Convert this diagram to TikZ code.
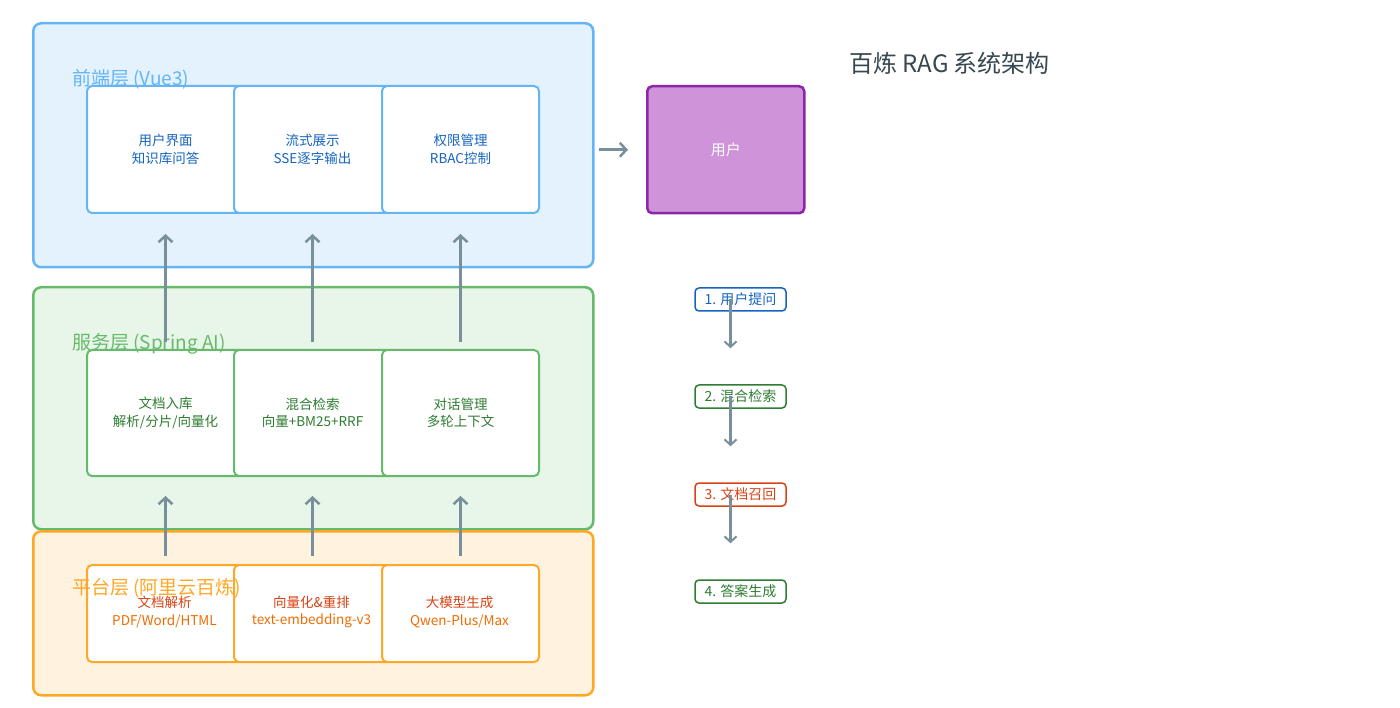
\documentclass[tikz,border=0pt]{standalone}
\usepackage{fontspec}
\setmainfont{Noto Sans CJK SC}
\usetikzlibrary{arrows.meta}
\definecolor{feFill}{HTML}{E3F2FD}
\definecolor{feLine}{HTML}{64B5F6}
\definecolor{feText}{HTML}{1565C0}
\definecolor{svFill}{HTML}{E8F5E9}
\definecolor{svLine}{HTML}{66BB6A}
\definecolor{svText}{HTML}{2E7D32}
\definecolor{plFill}{HTML}{FFF3E0}
\definecolor{plLine}{HTML}{FFA726}
\definecolor{plText}{HTML}{D84315}
\definecolor{plText2}{HTML}{EF6C00}
\definecolor{arrGray}{HTML}{78909C}
\definecolor{userFill}{HTML}{CE93D8}
\definecolor{userLine}{HTML}{8E24AA}
\definecolor{titleGray}{HTML}{37474F}
\tikzset{
  layer/.style={draw, line width=2.5pt, rounded corners=8pt, anchor=north west, inner sep=0pt},
  inbox/.style={draw, fill=white, line width=2pt, rounded corners=5pt, anchor=north west, inner sep=0pt, minimum width=157pt},
  inlabel/.style={font=\fontsize{13.5}{17.5}\selectfont, align=center},
  laylabel/.style={font=\fontsize{19}{21}\selectfont, anchor=base west, inner sep=0pt},
  arr/.style={draw=arrGray, line width=3pt, -{Straight Barb[length=6.5pt,width=14pt,line width=2.5pt]}},
  sarr/.style={draw=arrGray, line width=2.5pt, -{Straight Barb[length=5.5pt,width=12pt,line width=2pt]}},
  stepbox/.style={draw, fill=white, line width=1.5pt, rounded corners=4pt, minimum width=91pt, minimum height=23pt, inner sep=0pt, font=\fontsize{14}{16}\selectfont},
}
\begin{document}
\begin{tikzpicture}[x=1pt,y=-1pt]
\useasboundingbox (0,0) rectangle (1400,708);
% layers
\node[layer, draw=feLine, fill=feFill, minimum width=560pt, minimum height=244pt] (fe) at (32,22) {};
\node[layer, draw=svLine, fill=svFill, minimum width=560pt, minimum height=242pt] (sv) at (32,286) {};
\node[layer, draw=plLine, fill=plFill, minimum width=560pt, minimum height=164pt] (pl) at (32,530) {};
% front boxes
\node[inbox, draw=feLine, minimum height=127pt] (fe1) at (86,85) {};
\node[inbox, draw=feLine, minimum height=127pt] (fe2) at (233,85) {};
\node[inbox, draw=feLine, minimum height=127pt] (fe3) at (381,85) {};
\node[inlabel, text=feText] (fe1t) at (fe1.center) {用户界面\\知识库问答};
\node[inlabel, text=feText] (fe2t) at (fe2.center) {流式展示\\SSE逐字输出};
\node[inlabel, text=feText] (fe3t) at (fe3.center) {权限管理\\RBAC控制};
% service boxes
\node[inbox, draw=svLine, minimum height=126pt] (sv1) at (86,349) {};
\node[inbox, draw=svLine, minimum height=126pt] (sv2) at (233,349) {};
\node[inbox, draw=svLine, minimum height=126pt] (sv3) at (381,349) {};
\node[inlabel, text=svText] (sv1t) at (sv1.center) {文档入库\\解析/分片/向量化};
\node[inlabel, text=svText] (sv2t) at (sv2.center) {混合检索\\向量+BM25+RRF};
\node[inlabel, text=svText] (sv3t) at (sv3.center) {对话管理\\多轮上下文};
% platform boxes
\node[inbox, draw=plLine, minimum height=97pt] (pl1) at (86,564) {};
\node[inbox, draw=plLine, minimum height=97pt] (pl2) at (233,564) {};
\node[inbox, draw=plLine, minimum height=97pt] (pl3) at (381,564) {};
\node[inlabel] (pl1t) at (164.5,612) {\textcolor{plText}{文档解析}\\\textcolor{plText2}{PDF/Word/HTML}};
\node[inlabel] (pl2t) at (311.5,612) {\textcolor{plText}{向量化\&重排}\\\textcolor{plText2}{text-embedding-v3}};
\node[inlabel] (pl3t) at (459.5,612) {\textcolor{plText}{大模型生成}\\\textcolor{plText2}{Qwen-Plus/Max}};
% layer labels
\node[laylabel, text=feLine] (felab) at (72,86) {前端层 (Vue3)};
\node[laylabel, text=svLine] (svlab) at (72,350) {服务层 (Spring AI)};
\node[laylabel, text=plLine] (pllab) at (72,594) {平台层 (阿里云百炼)};
% vertical arrows
\foreach \i in {1,2,3}{
  \draw[arr, shorten <=7pt, shorten >=20pt] (sv\i.north) -- (fe\i.south);
  \draw[arr, shorten <=8pt, shorten >=19pt] (pl\i.north) -- (sv\i.south);
}
% user
\node[draw=userLine, fill=userFill, line width=2.5pt, rounded corners=5pt, minimum width=157pt, minimum height=127pt, anchor=north west, inner sep=0pt] (user) at (646,85) {};
\node[text=white, font=\fontsize{15}{17}\selectfont] (usert) at (user.center) {用户};
\draw[arr, shorten <=4pt, shorten >=18pt] (user.west -| fe.east) -- (user.west);
% title
\node[text=titleGray, font=\fontsize{24}{26}\selectfont, anchor=west, inner sep=0pt] (title) at (849,63) {百炼 RAG 系统架构};
% steps
\node[stepbox, draw=feText, text=feText] (s1) at (740.5,299.5) {1. 用户提问};
\node[stepbox, draw=svText, text=svText] (s2) at (740.5,396.5) {2. 混合检索};
\node[stepbox, draw=plText, text=plText] (s3) at (740.5,494.5) {3. 文档召回};
\node[stepbox, draw=svText, text=svText] (s4) at (740.5,591.5) {4. 答案生成};
\draw[sarr, shorten >=36pt] ([xshift=-10pt]s1.center) -- ([xshift=-10pt]s2.north);
\draw[sarr, shorten >=36pt] ([xshift=-10pt]s2.center) -- ([xshift=-10pt]s3.north);
\draw[sarr, shorten >=36pt] ([xshift=-10pt]s3.center) -- ([xshift=-10pt]s4.north);
\end{tikzpicture}
\end{document}
